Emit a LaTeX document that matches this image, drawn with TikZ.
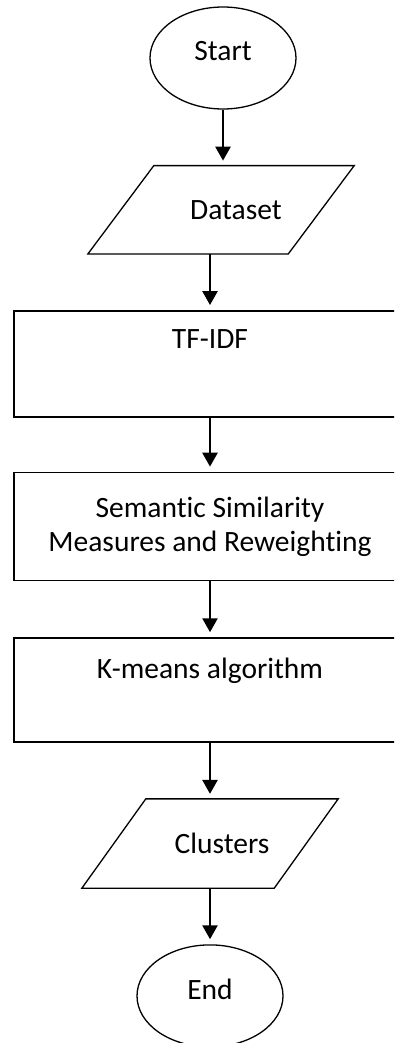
\documentclass[tikz,border=0pt]{standalone}
\usepackage{fontspec}
\setmainfont{Carlito}[Ligatures=NoCommon]
\usetikzlibrary{shapes.geometric, arrows.meta, positioning}

\begin{document}
\begin{tikzpicture}[
    x=1pt, y=-1pt,
    node distance=56pt,
    font=\fontsize{29.5}{34}\selectfont,
    terminal/.style={ellipse, draw, line width=1.3pt, minimum width=146pt, minimum height=102pt, text depth=14pt},
    io/.style={rectangle, minimum width=200pt, minimum height=88pt},
    ioline/.style={line width=1.3pt, line join=miter},
    process/.style={rectangle, draw, line width=1.6pt, minimum width=392pt, inner sep=0pt, text height=38pt, text depth=68pt},
    flow/.style={-{Triangle[width=15pt,length=14pt]}, line width=2.6pt, shorten >=5pt},
]
    \useasboundingbox (0,0) rectangle (394,1043);
    \clip (0,0) rectangle (394,1043);

    \node[terminal] (start) at (223,58) {Start};
    \node[io, below=of start, xshift=-2pt] (data) {\hspace*{30pt}Dataset};
    \node[process, below=of data, xshift=-11pt] (tfidf) {TF-IDF};
    \node[process, below=54pt of tfidf, text height=, text depth=, inner sep=2pt, minimum height=108pt, align=center] (sim) {Semantic Similarity\\Measures and Reweighting};
    \node[process, below=of sim, text height=40pt, text depth=64pt] (kmeans) {K-means algorithm};
    \node[io, below=of kmeans, minimum width=192pt, minimum height=89pt] (clusters) {\hspace*{24pt}Clusters};
    \node[terminal, below=of clusters] (end) {End};

    % slanted input/output boxes
    \draw[ioline] ([xshift=33pt]data.north west) -- ([xshift=33pt]data.north east)
        -- ([xshift=-33pt]data.south east) -- ([xshift=-33pt]data.south west) -- cycle;
    \draw[ioline] ([xshift=32pt]clusters.north west) -- ([xshift=32pt]clusters.north east)
        -- ([xshift=-32pt]clusters.south east) -- ([xshift=-32pt]clusters.south west) -- cycle;

    \draw[flow] (start) -- (start |- data.north);
    \draw[flow] (data.south -| tfidf) -- (tfidf);
    \draw[flow] (tfidf) -- (sim);
    \draw[flow] (sim) -- (kmeans);
    \draw[flow] (kmeans) -- (clusters);
    \draw[flow] (clusters) -- (end);
\end{tikzpicture}
\end{document}
